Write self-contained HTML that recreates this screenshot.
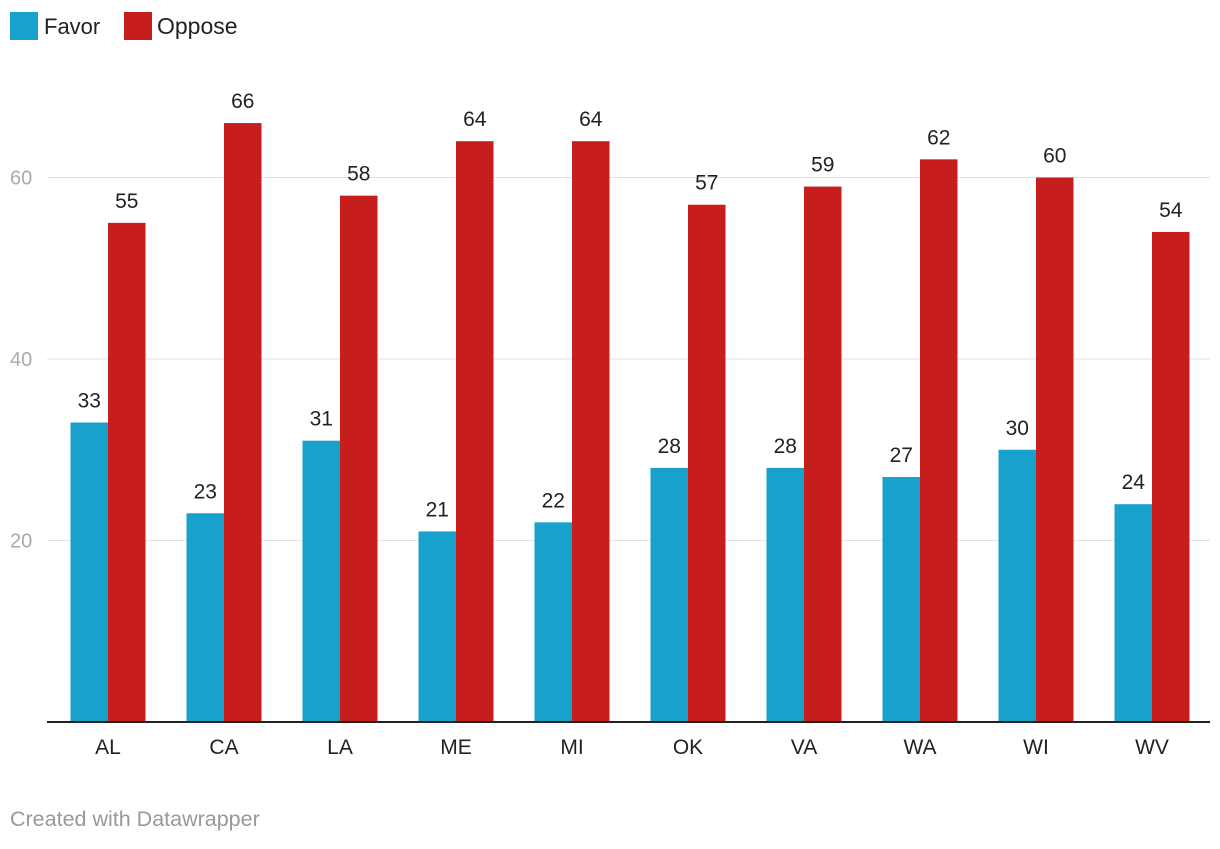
<!DOCTYPE html>
<html><head><meta charset="utf-8"><style>
body{margin:0;background:#fff;width:1220px;height:844px;overflow:hidden;font-family:"Liberation Sans",sans-serif}
</style></head><body>
<svg id="chart" width="1220" height="844">
<g>
<rect x="10" y="12" width="28" height="28" fill="#18a1cd"/>
<text x="44" y="34" font-size="22" fill="#222">Favor</text>
<rect x="124" y="12" width="28" height="28" fill="#c71e1d"/>
<text x="157" y="34" font-size="23" fill="#222">Oppose</text>
</g>
<g id="grid"></g><g id="bars"></g>
<text x="10" y="826" font-size="21.5" fill="#999">Created with Datawrapper</text>
</svg>
<script>
const categories=["AL","CA","LA","ME","MI","OK","VA","WA","WI","WV"];
const favor=[33,23,31,21,22,28,28,27,30,24];
const oppose=[55,66,58,64,64,57,59,62,60,54];
const yTicks=[20,40,60];
const NS="http://www.w3.org/2000/svg";
const y=v=>722-v*9.075;
const cx=i=>108+116*i;
const bw=37.5;
function mk(tag,attrs,parent,txt){const e=document.createElementNS(NS,tag);for(const k in attrs)e.setAttribute(k,attrs[k]);if(txt!==undefined)e.textContent=txt;parent.appendChild(e);return e;}
const grid=document.getElementById('grid'),bars=document.getElementById('bars');
yTicks.forEach(t=>{
 const l=mk('line',{x1:47,x2:1210,y1:y(t),y2:y(t),stroke:'#e2e2e2','stroke-width':1},grid);
 
 
 const tx=mk('text',{x:10,y:y(t)+7,'font-size':20,fill:'#aaa'},grid,t);
 
 
});
categories.forEach((c,i)=>{
 [[favor[i],cx(i)-bw,'#18a1cd','favor'],[oppose[i],cx(i),'#c71e1d','oppose']].forEach(([v,x,col,s])=>{
  const r=mk('rect',{x:x,y:y(v),width:bw,height:722-y(v),fill:col},bars);
  
  
  const t=mk('text',{x:x+bw/2,y:y(v)-15,'font-size':21,fill:'#222','text-anchor':'middle'},bars,v);
  
  
 });
 const xl=mk('text',{x:cx(i),y:754,'font-size':21,fill:'#222','text-anchor':'middle'},bars,c);
 
 
});
const ax=mk('line',{x1:47,x2:1210,y1:722,y2:722,stroke:'#222','stroke-width':2},bars);


</script>
</body></html>
